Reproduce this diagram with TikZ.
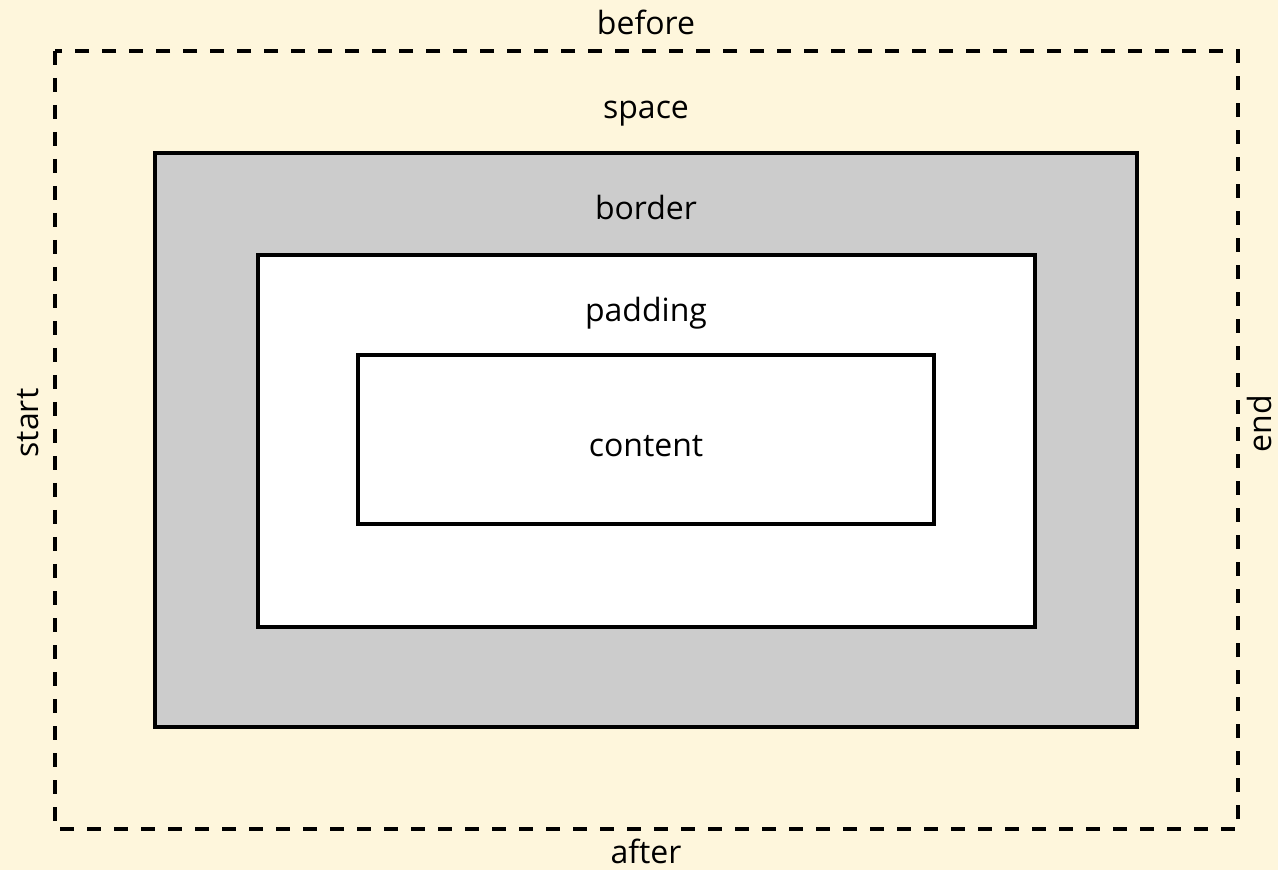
\documentclass[tikz,border=0pt]{standalone}
\usepackage{fontspec}
\setmainfont{Open Sans}
\usetikzlibrary{positioning}
\definecolor{cream}{HTML}{FEF6DC}
\definecolor{bordergray}{HTML}{CCCCCC}

\begin{document}
\begin{tikzpicture}[
        x=0.5pt, y=-0.5pt,
        every node/.style={font=\fontsize{16pt}{19pt}\selectfont, inner sep=0pt},
        spacebox/.style={draw, line width=1.9pt, dash pattern=on 7pt off 6.5pt},
        borderbox/.style={draw, line width=1.6pt, fill=bordergray},
        plainbox/.style={draw, line width=1.6pt, fill=white},
        lbl/.style={anchor=base}
        ]
        \fill[cream] (0,0) rectangle (1278,870);
        \useasboundingbox (0,0) rectangle (1278,870);

        \draw[spacebox] (55,51) rectangle (1238,829);
        \draw[borderbox] (155,153) rectangle (1137,727);
        \draw[plainbox] (258,255) rectangle (1035,627);
        \draw[plainbox] (358,355) rectangle (934,524);

        \node (before) [lbl] at (646,35) {before};
        \node (space) [lbl] at (646,119) {space};
        \node (border) [lbl] at (646,220) {border};
        \node (padding) [lbl] at (646,322) {padding};
        \node (content) [lbl] at (646,457) {content};
        \node (after) [lbl] at (646,863) {after};
        \node (start) [lbl, rotate=90] at (38,423) {start};
        \node (end) [lbl, rotate=90] at (1271,424) {end};
    \end{tikzpicture}
\end{document}
